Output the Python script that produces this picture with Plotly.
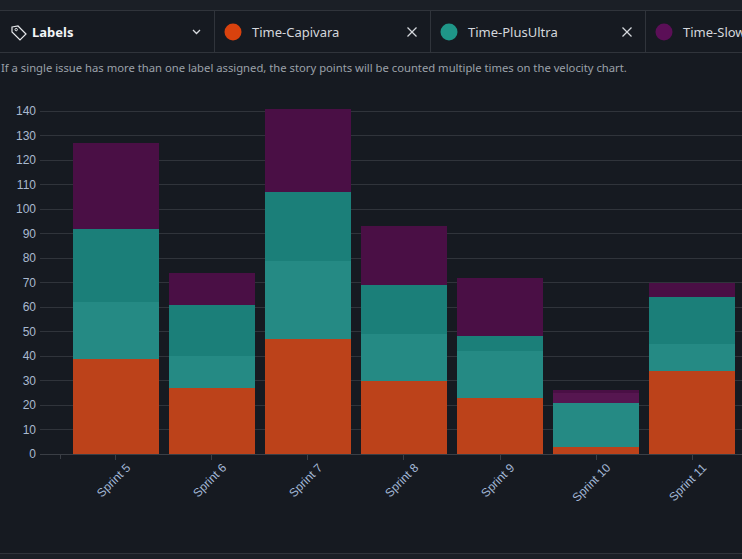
import plotly.graph_objects as go

sprints = ["Sprint 5", "Sprint 6", "Sprint 7", "Sprint 8", "Sprint 9", "Sprint 10", "Sprint 11"]
capivara = [39, 27, 47, 30, 23, 3, 34]
plusultra = [23, 13, 32, 19, 19, 18, 11]
teal_dark = [30, 21, 28, 20, 6, 0, 19]
purple_light = [0, 0, 0, 0, 0, 4, 0]
slow = [35, 13, 34, 24, 24, 1, 6]
ytick_vals = list(range(0, 150, 10))

W, H = 742, 559
L, R, T, B = 40, 0, 99, 105
PW, PH = W - L - R, H - T - B
BG = "#161a21"
LINE = "#30343b"


def px(x):
    return (x - L) / PW


def py(y):
    return (H - B - y) / PH


fig = go.Figure()
series = [
    ("Time-Capivara", capivara, "#bc421a"),
    ("Time-PlusUltra", plusultra, "#258a84"),
    ("Time-PlusUltra 2", teal_dark, "#1b7f79"),
    ("Time-Slow 2", purple_light, "#561650"),
    ("Time-Slow", slow, "#4a0f45"),
]
for name, vals, col in series:
    fig.add_trace(go.Bar(x=sprints, y=vals, name=name, marker=dict(color=col, line=dict(width=0))))

shapes = []
annotations = []

# top strip
shapes.append(dict(type="rect", xref="paper", yref="paper", x0=px(0), x1=px(W), y0=py(0), y1=py(10),
                   fillcolor="#1b1f26", line=dict(width=0), layer="below"))
for yy in (10.5, 52.5, 553.5):
    shapes.append(dict(type="line", xref="paper", yref="paper", x0=px(0), x1=px(W), y0=py(yy), y1=py(yy),
                       line=dict(color=LINE, width=1)))
shapes.append(dict(type="rect", xref="paper", yref="paper", x0=px(0), x1=px(W), y0=py(554), y1=py(H),
                   fillcolor="#1b1f26", line=dict(width=0), layer="below"))
for xx in (214.5, 430.5, 645.5):
    shapes.append(dict(type="line", xref="paper", yref="paper", x0=px(xx), x1=px(xx), y0=py(11), y1=py(52),
                       line=dict(color=LINE, width=1)))

# leading axis tick
shapes.append(dict(type="line", xref="paper", yref="paper", x0=px(60.5), x1=px(60.5), y0=py(454), y1=py(459),
                   line=dict(color="#3a3e45", width=1)))

# tag icon
pts = [(12, 27), (18, 26), (26, 34), (20, 40), (12, 32), (12, 27)]
path = "M " + " L ".join(f"{px(a):.5f},{py(b):.5f}" for a, b in pts) + " Z"
shapes.append(dict(type="path", xref="paper", yref="paper", path=path, line=dict(color="#e6e8eb", width=1.2)))
shapes.append(dict(type="circle", xref="paper", yref="paper", x0=px(15), x1=px(17.4), y0=py(28.4), y1=py(30.8),
                   line=dict(color="#e6e8eb", width=1)))
annotations.append(dict(text="<b>Labels</b>", x=px(30), y=py(32), xref="paper", yref="paper", xanchor="left",
                        yanchor="middle", showarrow=False, font=dict(family="Noto Sans", size=13, color="#f2f4f7")))
# chevron
cpts = [(193, 30), (196.5, 33.5), (200, 30)]
shapes.append(dict(type="path", xref="paper", yref="paper",
                   path="M " + " L ".join(f"{px(a):.5f},{py(b):.5f}" for a, b in cpts),
                   line=dict(color="#d8dbe0", width=1.3)))

chips = [(233, "Time-Capivara", "#d9420e", 412), (449, "Time-PlusUltra", "#1f9688", 627), (664, "Time-Slow", "#5b0f57", None)]
for cx, label, col, xpos in chips:
    r = 8.5
    shapes.append(dict(type="circle", xref="paper", yref="paper", x0=px(cx - r), x1=px(cx + r),
                       y0=py(32 + r), y1=py(32 - r), fillcolor=col, line=dict(width=0)))
    annotations.append(dict(text=label, x=px(cx + 17), y=py(32), xref="paper", yref="paper", xanchor="left",
                            yanchor="middle", showarrow=False, font=dict(family="Noto Sans", size=13, color="#d4d7dc")))
    if xpos:
        s = 4.5
        for (a, b, c, d) in ((xpos - s, 32 - s, xpos + s, 32 + s), (xpos - s, 32 + s, xpos + s, 32 - s)):
            shapes.append(dict(type="line", xref="paper", yref="paper", x0=px(a), y0=py(b), x1=px(c), y1=py(d),
                               line=dict(color="#d4d7dc", width=1.2)))

annotations.append(dict(
    text="If a single issue has more than one label assigned, the story points will be counted multiple times on the velocity chart.",
    x=px(-1), y=py(68), xref="paper", yref="paper", xanchor="left", yanchor="middle", showarrow=False,
    font=dict(family="Noto Sans", size=11.25, color="#9ba1a9")))

fig.update_layout(
    width=W, height=H,
    barmode="stack", bargap=0.104,
    showlegend=False,
    paper_bgcolor=BG, plot_bgcolor=BG,
    margin=dict(l=L, r=R, t=T, b=B, pad=0),
    font=dict(family="Liberation Sans, Arial", size=12, color="#a9b9cf"),
    xaxis=dict(range=[-0.79, 6.52], showgrid=False, showline=True, linecolor="#3a3e45", linewidth=1,
               ticks="outside", ticklen=5, tickcolor="#3a3e45", tickangle=-45, ticklabelshift=11,
               ticklabelstandoff=-4,
               tickfont=dict(family="Liberation Sans, Arial", size=12, color="#a3b8d6"), fixedrange=True),
    yaxis=dict(range=[0, 145], tickvals=ytick_vals, showgrid=True, gridcolor="#30343b", gridwidth=1,
               zeroline=False, showline=False, ticks="", ticklabelstandoff=3,
               tickfont=dict(family="Liberation Sans, Arial", size=12, color="#a9b9cf"), fixedrange=True),
    shapes=shapes, annotations=annotations,
)

fig.write_html("out.html", config={"displayModeBar": False},
               post_script="document.body.style.margin='0';document.body.style.overflow='hidden';document.body.style.background='#161a21';")
